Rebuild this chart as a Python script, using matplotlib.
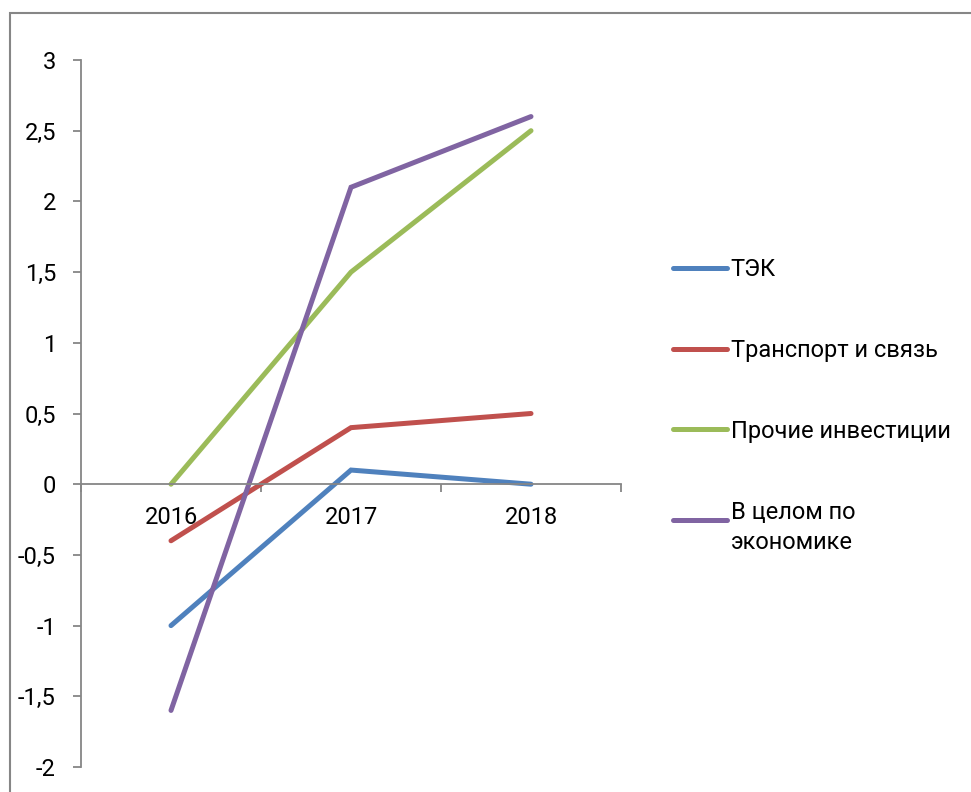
import matplotlib
matplotlib.use('Agg')
import matplotlib.pyplot as plt
from matplotlib.patches import Rectangle
from matplotlib.legend_handler import HandlerLine2D
from matplotlib.ticker import FixedLocator, FuncFormatter

plt.rcParams['font.family'] = ['Roboto', 'DejaVu Sans']

# данные
years = ['2016', '2017', '2018']
tek = [-1.0, 0.1, 0.0]
transport = [-0.4, 0.4, 0.5]
prochie = [0.0, 1.5, 2.5]
v_celom = [-1.6, 2.1, 2.6]
series_names = ['ТЭК', 'Транспорт и связь', 'Прочие инвестиции', 'В целом по\nэкономике']
colors = ['#4F81BD', '#C0504D', '#9BBB59', '#8064A2']


class FirstLineHandler(HandlerLine2D):
    # ставим линию легенды на уровень первой строки подписи
    def __init__(self, shift, **kw):
        super().__init__(**kw)
        self.shift = shift

    def create_artists(self, legend, orig_handle, xdescent, ydescent,
                       width, height, fontsize, trans):
        return super().create_artists(legend, orig_handle, xdescent,
                                      ydescent - self.shift, width, height,
                                      fontsize, trans)


fig = plt.figure(figsize=(9.71, 7.92), dpi=100)
ax = fig.add_axes([81 / 971, 25 / 792, 540 / 971, 707 / 792])

x = list(range(len(years)))
handles = []
for vals, c in zip([tek, transport, prochie, v_celom], colors):
    ln, = ax.plot(x, vals, color=c, lw=3.6, solid_capstyle='round',
                  solid_joinstyle='miter', clip_on=False)
    handles.append(ln)

ax.set_xlim(-0.5, 2.5)
ax.set_ylim(-2, 3)

grey = '#868686'
ax.spines['top'].set_visible(False)
ax.spines['right'].set_visible(False)
ax.spines['bottom'].set_position(('data', 0))
for s in ['left', 'bottom']:
    ax.spines[s].set_color(grey)
    ax.spines[s].set_linewidth(1.3)

ax.yaxis.set_major_locator(FixedLocator([-2 + 0.5 * i for i in range(11)]))
ax.yaxis.set_major_formatter(FuncFormatter(lambda v, p: ('%g' % v).replace('.', ',')))
ax.tick_params(axis='y', direction='out', length=6, width=1.3, color=grey,
               pad=12, labelsize=17)

ax.xaxis.set_major_locator(FixedLocator([-0.5, 0.5, 1.5, 2.5]))
ax.xaxis.set_major_formatter(FuncFormatter(lambda v, p: ''))
ax.xaxis.set_minor_locator(FixedLocator(x))
ax.xaxis.set_minor_formatter(FuncFormatter(lambda v, p: years[int(round(v))]))
ax.tick_params(axis='x', which='major', direction='out', length=6, width=1.3, color=grey)
ax.tick_params(axis='x', which='minor', length=0, pad=16, labelsize=17)

hmap = {handles[3]: FirstLineHandler(shift=0.7 * 17)}
leg = fig.legend(handles, series_names, loc='upper left',
                 bbox_to_anchor=(673 / 971, 1 - 258 / 792),
                 frameon=False, fontsize=17, borderpad=0, borderaxespad=0,
                 handlelength=2.3, handletextpad=0.15, labelspacing=2.45,
                 handler_map=hmap)
leg.get_texts()[3].set_linespacing(1.4)

# рамка области диаграммы
fig.patches.append(Rectangle((10 / 971, -0.1), 1.2, 1.1 - 13 / 792,
                             transform=fig.transFigure, fill=False,
                             edgecolor=grey, lw=1.5))

fig.savefig('out.png', dpi=100)
